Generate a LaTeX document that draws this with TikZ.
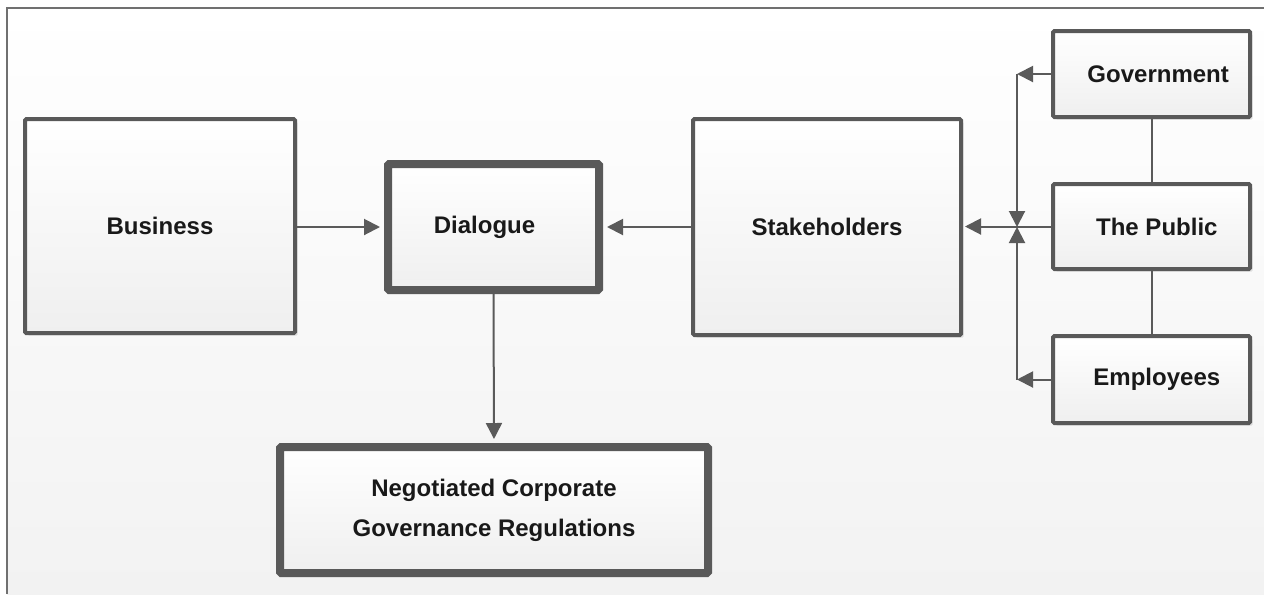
\documentclass[tikz,border=0pt]{standalone}
\usepackage{fontspec}
\setmainfont{Liberation Sans}
\usetikzlibrary{arrows.meta,shadows}
\definecolor{edge}{HTML}{595959}
\definecolor{conn}{HTML}{5A5A5A}
\definecolor{frame}{HTML}{707070}
\definecolor{boxbot}{HTML}{EFEFEF}
\definecolor{bgbot}{HTML}{F2F2F2}
\tikzset{
  box/.style={draw=edge, line width=3pt, rounded corners=1pt,
    top color=white, bottom color=boxbot, shading angle=0,
    drop shadow={shadow xshift=2pt, shadow yshift=-2pt, opacity=0.10, fill=black},
    font=\bfseries\fontsize{18}{30}\selectfont, text=black!90, align=center,
    inner sep=0pt},
  thinbox/.style={box, line width=3pt},
  thickbox/.style={box, line width=6pt},
  conn/.style={draw=conn, line width=1.5pt},
  arr/.style={conn, -{Triangle[length=12pt,width=12pt]}},
}
\begin{document}
\begin{tikzpicture}[x=0.75pt,y=-0.75pt]
\useasboundingbox (0,0) rectangle (1264,594);
\fill[white] (0,0) rectangle (1264,594);
\shade[top color=white, bottom color=bgbot] (7,8) rectangle (1264,594);
\draw[frame, line width=1.2pt] (7,594) -- (7,8) -- (1264,8);

\node[thinbox, minimum width=202.5pt, minimum height=160.5pt] (bus) at (160,226) {Business};
\node[thickbox, minimum width=158.25pt, minimum height=94.5pt] (dia) at (493.5,227) {Dialogue\hspace*{13.5pt}};
\node[thinbox, minimum width=201pt, minimum height=162pt] (stk) at (827,227) {Stakeholders};
\node[thinbox, minimum width=147.75pt, minimum height=64.5pt] (gov) at (1151.5,74) {\hspace*{10pt}Government};
\node[thinbox, minimum width=147.75pt, minimum height=63.75pt] (pub) at (1151.5,226.5) {\hspace*{8pt}The Public};
\node[thinbox, minimum width=147.75pt, minimum height=65.25pt] (emp) at (1151.5,379.5) {\hspace*{8pt}Employees};
\node[thickbox, minimum width=321pt, minimum height=94.5pt] (neg) at (494,510) {Negotiated Corporate\\Governance Regulations};

\coordinate (gc) at (1017,74);
\coordinate (ec) at (1017,379.5);
\coordinate (jn) at (1017,227);

\draw[arr, shorten >=3pt] (bus.east |- dia.west) -- (dia.west);
\draw[arr, shorten >=3pt] (stk.west) -- (dia.east);
\draw[arr, shorten >=3pt] (dia.south) -- (neg.north);
\draw[arr, shorten >=1.5pt] (pub.west) -- (stk.east |- pub.west);
\draw[arr] (gov.west) -- (gc);
\draw[arr] (gc) -- (jn);
\draw[arr] (emp.west) -- (ec);
\draw[arr] (ec) -- (jn);
\draw[conn] (gov.south) -- (pub.north);
\draw[conn] (pub.south) -- (emp.north);
\end{tikzpicture}
\end{document}
